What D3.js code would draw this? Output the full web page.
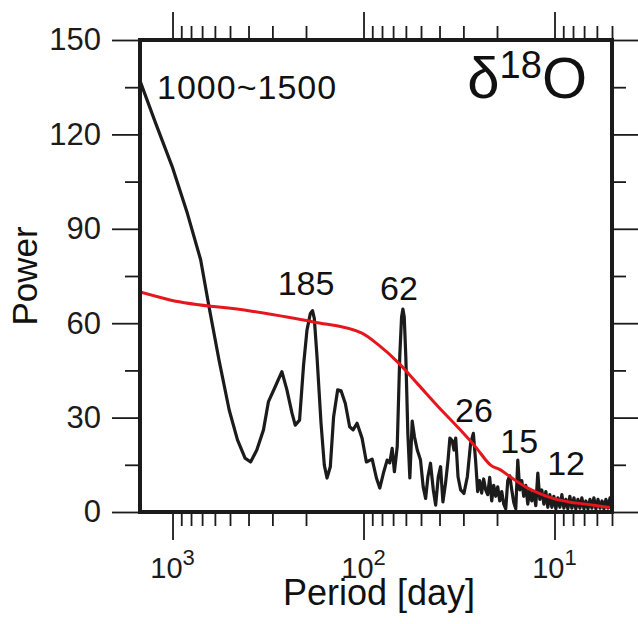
<!DOCTYPE html>
<html>
<head>
<meta charset="utf-8">
<script src="https://cdn.jsdelivr.net/npm/d3@7"></script>
<style>
  html, body { margin: 0; padding: 0; background: #fff; }
  svg { display: block; font-family: "Liberation Sans", Arial, Helvetica, sans-serif; }
</style>
</head>
<body>
<svg id="chart" width="638" height="624"></svg>
<script>
// Power spectrum of δ18O (period in days, power)
const spectrumPeriod = [
  1480, 1226, 1003, 837, 712, 644, 571, 505, 457, 417, 390, 362, 334, 314.5, 290, 267.5,
  251.8, 237, 227.8, 216.2, 206, 197.7, 190, 185, 181, 175.2, 166.9, 160.4, 155.3, 149.2,
  143.4, 136.6, 131.1, 124.5, 118.2, 113.4, 108.1, 101.7, 96.6, 90.1, 85.6, 82.2, 78.3,
  75.2, 72.9, 70.8, 68.9, 66.6, 64.6, 63.2, 62.2, 61.2, 60.05, 58.6, 57.2, 55.6, 54.1,
  52.3, 50.3, 48.7, 47.3, 46.0, 44.6, 43.1, 41.9, 40.6, 39.5, 38.4, 37.2, 36.1, 35.3,
  34.3, 33.6, 32.9, 32.0, 31.0, 29.8, 28.6, 27.5, 26.6, 25.9,
  25.25, 24.65, 24.06, 23.49, 22.93, 22.38, 21.84, 21.32, 20.81, 20.31, 19.83, 19.35,
  18.89, 18.44, 18.00, 17.57, 17.15, 16.74, 16.34, 15.95, 15.57, 15.20, 14.84, 14.49,
  14.14, 13.80, 13.47, 13.15, 12.84, 12.53, 12.23, 11.94, 11.65, 11.37, 11.10, 10.84,
  10.58, 10.32, 10.08, 9.84, 9.60, 9.37, 9.15, 8.93, 8.72, 8.51, 8.31, 8.11, 7.91,
  7.73, 7.54, 7.36, 7.19, 7.01, 6.85, 6.68, 6.52, 6.37, 6.22, 6.07, 5.92, 5.78, 5.64,
  5.51, 5.38, 5.25, 5.12, 5.00
];
const spectrumPower = [
  137.0, 123.6, 109.7, 95.0, 80.1, 65.2, 48.3, 32.4, 22.9, 17.1, 15.9, 19.7, 26.1, 35.1, 39.8, 44.6,
  38.8, 31.5, 27.6, 29.2, 46.7, 57.8, 63.0, 64.0, 61.5, 49.4, 28.2, 14.9, 10.8, 14.4,
  30.3, 38.8, 38.5, 34.5, 27.1, 26.1, 28.2, 23.4, 15.9, 16.8, 10.8, 7.6, 12.8,
  16.5, 15.6, 20.2, 12.8, 20.8, 49.4, 62.0, 64.5, 62.0, 49.4, 25.0, 10.8, 28.9, 23.9,
  19.7, 16.5, 8.0, 4.3, 11.2, 15.5, 7.0, 2.2, 11.2, 14.4, 3.2, 9.1, 16.5, 23.5,
  22.6, 19.7, 23.5, 11.2, 7.0, 5.9, 11.2, 21.8, 25.0, 16.5,
  6.5, 10.0, 6.0, 10.5, 7.0, 5.5, 11.0, 3.5, 8.5, 5.0, 8.0, 3.5,
  6.5, 2.5, 1.0, 10.0, 11.5, 7.0, 3.0, 1.0, 16.5, 7.0, 10.0, 5.0,
  8.5, 2.5, 7.0, 3.5, 6.5, 2.0, 12.4, 4.0, 7.0, 2.5, 6.5, 1.5,
  5.5, 1.5, 5.0, 1.0, 4.5, 1.5, 5.5, 1.2, 4.0, 1.0, 5.0, 1.2, 4.5,
  1.0, 4.0, 1.2, 4.5, 1.0, 3.5, 1.0, 4.0, 1.2, 4.5, 1.0, 4.0, 1.2,
  3.5, 1.0, 4.0, 1.2, 4.5, 2.0
];

// Red-noise background spectrum
const noisePeriod = [1480, 1031, 392, 183, 102.6, 83.5, 65.6, 51.5, 40.5, 31.8, 25.9, 21.6,
  19.1, 16.7, 14.1, 12.1, 10.3, 8.4, 6.85, 5.0];
const noisePower = [69.9, 67.4, 63.9, 60.4, 56.9, 53.1, 47.4, 40.4, 33.4, 26.7, 20.7, 14.9,
  13.3, 10.8, 7.9, 6.0, 4.4, 3.2, 2.5, 1.3];

// Peak annotations (label anchor in period / power)
const peakLabels = ["185", "62", "26", "15", "12"];
const peakLabelPeriod = [200, 65.2, 26.4, 15.3, 8.7];
const peakLabelPower = [69, 67.4, 28.6, 18.7, 11.7];

// Axis ticks
const powerTicks = [0, 30, 60, 90, 120, 150];
const powerMinorTicks = [15, 45, 75, 105, 135];
const periodMajorTicks = [1000, 100, 10];
const periodExponents = ["3", "2", "1"];

const svg = d3.select("#chart");
const plotLeft = 140, plotRight = 612, plotTop = 40, plotBottom = 512;

const x = d3.scaleLog().domain([1480, 5]).range([plotLeft, plotRight]);
const y = d3.scaleLinear().domain([0, 150]).range([plotBottom, plotTop]);

const periodMinorTicks = [];
[100, 10, 1].forEach(base => {
  for (let k = 2; k <= 9; k++) {
    const v = base * k;
    if (v <= 1480 && v >= 5 && !periodMajorTicks.includes(v)) periodMinorTicks.push(v);
  }
});

const ink = "#1b1b1b";

function styleAxis(g) {
  g.select(".domain").remove();
  g.selectAll(".tick line").attr("stroke", ink).attr("stroke-width", 1.8);
}

// bottom axis
svg.append("g").attr("transform", `translate(0,${plotBottom})`)
  .call(d3.axisBottom(x).tickValues(periodMinorTicks).tickSize(14).tickFormat(""))
  .call(styleAxis);
svg.append("g").attr("transform", `translate(0,${plotBottom})`)
  .call(d3.axisBottom(x).tickValues(periodMajorTicks).tickSize(28).tickFormat(""))
  .call(styleAxis);
// top axis
svg.append("g").attr("transform", `translate(0,${plotTop})`)
  .call(d3.axisTop(x).tickValues(periodMinorTicks).tickSize(14).tickFormat(""))
  .call(styleAxis);
svg.append("g").attr("transform", `translate(0,${plotTop})`)
  .call(d3.axisTop(x).tickValues(periodMajorTicks).tickSize(28).tickFormat(""))
  .call(styleAxis);
// left axis
svg.append("g").attr("transform", `translate(${plotLeft},0)`)
  .call(d3.axisLeft(y).tickValues(powerMinorTicks).tickSize(15).tickFormat(""))
  .call(styleAxis);
const yAxisLeft = svg.append("g").attr("transform", `translate(${plotLeft},0)`)
  .call(d3.axisLeft(y).tickValues(powerTicks).tickSize(28).tickPadding(11).tickFormat(d3.format("d")))
  .call(styleAxis);
yAxisLeft.selectAll(".tick text")
  .attr("font-size", 31).attr("fill", ink)
  .attr("font-family", "'Liberation Sans', Arial, sans-serif");
// right axis
svg.append("g").attr("transform", `translate(${plotRight},0)`)
  .call(d3.axisRight(y).tickValues(powerMinorTicks).tickSize(14).tickFormat(""))
  .call(styleAxis);
svg.append("g").attr("transform", `translate(${plotRight},0)`)
  .call(d3.axisRight(y).tickValues(powerTicks).tickSize(28).tickFormat(""))
  .call(styleAxis);

// x tick labels as powers of ten
periodMajorTicks.forEach((v, i) => {
  const t = svg.append("text")
    .attr("x", x(v)).attr("y", 578)
    .attr("text-anchor", "middle")
    .attr("fill", ink)
    .attr("font-size", 29);
  t.append("tspan").text("10");
  t.append("tspan").attr("font-size", 22).attr("dy", -13).text(periodExponents[i]);
});

// clip to plot area
svg.append("clipPath").attr("id", "plotClip")
  .append("rect").attr("x", plotLeft).attr("y", plotTop)
  .attr("width", plotRight - plotLeft).attr("height", plotBottom - plotTop);

const plot = svg.append("g").attr("clip-path", "url(#plotClip)");

const spectrum = spectrumPeriod.map((p, i) => [p, spectrumPower[i]]);
const noise = noisePeriod.map((p, i) => [p, noisePower[i]]);

plot.append("path")
  .datum(spectrum)
  .attr("fill", "none")
  .attr("stroke", ink)
  .attr("stroke-width", 3.2)
  .attr("stroke-linejoin", "round")
  .attr("d", d3.line().x(d => x(d[0])).y(d => y(d[1])));

plot.append("path")
  .datum(noise)
  .attr("fill", "none")
  .attr("stroke", "#e5161c")
  .attr("stroke-width", 3)
  .attr("d", d3.line().curve(d3.curveMonotoneX).x(d => x(d[0])).y(d => y(d[1])));

// frame
svg.append("rect")
  .attr("x", plotLeft).attr("y", plotTop)
  .attr("width", plotRight - plotLeft).attr("height", plotBottom - plotTop)
  .attr("fill", "none").attr("stroke", ink).attr("stroke-width", 4);

// peak labels
peakLabels.forEach((lab, i) => {
  svg.append("text")
    .attr("x", x(peakLabelPeriod[i])).attr("y", y(peakLabelPower[i]))
    .attr("text-anchor", "middle")
    .attr("font-size", 34)
    .attr("fill", "#111")
    .text(lab);
});

// interval label
svg.append("text")
  .attr("x", 157).attr("y", 99)
  .attr("font-size", 34).attr("letter-spacing", 1)
  .attr("fill", "#111")
  .text("1000~1500");

// variable label
const iso = svg.append("text")
  .attr("x", 587).attr("y", 98)
  .attr("text-anchor", "end")
  .attr("font-size", 58).attr("fill", "#111");
iso.append("tspan").text("δ");
iso.append("tspan").attr("font-size", 38).attr("dy", -20).text("18");
iso.append("tspan").attr("dy", 20).text("O");

// axis titles
svg.append("text")
  .attr("x", 379).attr("y", 605)
  .attr("text-anchor", "middle")
  .attr("font-size", 36).attr("fill", "#111")
  .text("Period [day]");

svg.append("text")
  .attr("transform", `translate(37,${(plotTop + plotBottom) / 2}) rotate(-90)`)
  .attr("text-anchor", "middle")
  .attr("font-size", 35).attr("fill", "#111")
  .text("Power");
</script>
</body>
</html>
